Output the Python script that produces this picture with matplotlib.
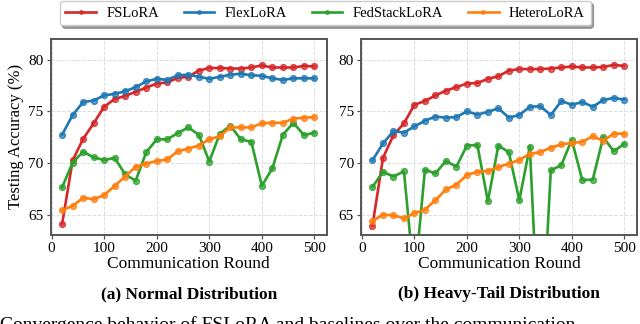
import matplotlib
matplotlib.use("Agg")
from matplotlib import pyplot as plt
from matplotlib.colors import to_rgba

plt.rcParams['font.family'] = ['Liberation Serif', 'DejaVu Serif']

rounds = list(range(20, 501, 20))

# (a) Normal Distribution
normal_fslora = [64.1, 70.25, 72.35, 73.85, 75.45, 76.2, 76.5, 76.9, 77.3, 77.7, 77.8, 78.25, 78.35,
                 78.95, 79.2, 79.2, 79.15, 79.15, 79.25, 79.45, 79.25, 79.25, 79.25, 79.4, 79.35]
normal_flexlora = [72.75, 74.65, 75.9, 76.05, 76.55, 76.7, 76.95, 77.35, 77.9, 78.15, 78.05, 78.5, 78.55,
                   78.35, 78.15, 78.35, 78.55, 78.65, 78.5, 78.45, 78.2, 78.05, 78.2, 78.2, 78.2]
normal_fedstack = [67.65, 70.05, 71.1, 70.55, 70.3, 70.5, 68.9, 68.3, 71.05, 72.3, 72.3, 72.9, 73.45,
                   72.75, 70.15, 72.85, 73.6, 72.3, 72.05, 67.8, 69.5, 72.75, 73.9, 72.7, 72.95]
normal_hetero = [65.45, 65.85, 66.65, 66.5, 66.9, 67.8, 68.7, 69.65, 69.95, 70.2, 70.35, 71.15, 71.4,
                 71.7, 72.3, 72.6, 73.45, 73.45, 73.45, 73.85, 73.9, 73.9, 74.3, 74.4, 74.45]

# (b) Heavy-Tail Distribution
heavy_fslora = [63.95, 70.5, 72.7, 73.85, 75.65, 76.0, 76.55, 77.0, 77.35, 77.7, 77.75, 78.15, 78.4,
                78.95, 79.1, 79.1, 79.1, 79.15, 79.25, 79.35, 79.25, 79.25, 79.3, 79.5, 79.4]
heavy_flexlora = [70.27, 71.9, 73.1, 72.95, 73.55, 74.1, 74.5, 74.4, 74.45, 75.0, 74.7, 74.95, 75.3,
                  74.4, 74.65, 75.45, 75.5, 74.65, 76.0, 75.65, 75.9, 75.45, 76.1, 76.3, 76.15]
heavy_fedstack = [67.7, 69.15, 68.7, 69.2, 58.5, 69.35, 69.0, 70.2, 69.65, 71.7, 71.75, 66.3, 71.7,
                  71.05, 66.4, 71.6, 50.0, 69.3, 69.8, 72.25, 68.35, 68.4, 72.5, 71.15, 71.85]
heavy_hetero = [64.4, 65.0, 64.95, 64.65, 65.15, 65.5, 66.4, 67.45, 67.9, 68.85, 69.15, 69.25, 69.6,
                69.95, 70.3, 70.9, 71.05, 71.5, 71.8, 71.95, 72.05, 72.6, 72.15, 72.85, 72.85]

methods = ["FSLoRA", "FlexLoRA", "FedStackLoRA", "HeteroLoRA"]
colors = ["#d62728", "#1f77b4", "#2ca02c", "#ff7f0e"]
panels = [
    ("(a) Normal Distribution", [normal_fslora, normal_flexlora, normal_fedstack, normal_hetero]),
    ("(b) Heavy-Tail Distribution", [heavy_fslora, heavy_flexlora, heavy_fedstack, heavy_hetero]),
]

fig = plt.figure(figsize=(6.4, 3.24), dpi=100)
ax1 = fig.add_axes([0.079, 0.275, 0.432, 0.606])
ax2 = fig.add_axes([0.564, 0.275, 0.431, 0.606])

for ax, (title, series) in zip([ax1, ax2], panels):
    for name, vals, c in zip(methods, series, colors):
        ax.plot(rounds, vals, color=c, lw=1.9, marker='o', ms=4.2,
                mfc=to_rgba(c, 0.7), mec=to_rgba(c, 0.8), mew=1.0, label=name)
    ax.set_xlim(-2, 524)
    ax.set_ylim(63.05, 82.05)
    ax.set_xticks([0, 100, 200, 300, 400, 500])
    ax.set_yticks([65, 70, 75, 80])
    ax.grid(True, ls='--', lw=0.7, color='#dddddd')
    ax.set_axisbelow(True)
    for sp in ax.spines.values():
        sp.set_color('#555555')
        sp.set_linewidth(1.4)
    ax.tick_params(labelsize=11, length=3, width=0.9, pad=2, color='#555555')
    ax.set_xlabel("Communication Round", fontsize=12.5, labelpad=1)
    pos = ax.get_position()
    fig.text((pos.x0 + pos.x1) / 2, 1 - 294 / 324, title, ha='center', va='center',
             fontsize=12.5, fontweight='bold')

ax1.set_ylabel("Testing Accuracy (%)", fontsize=12, labelpad=3)

handles, labels = ax1.get_legend_handles_labels()
fig.legend(handles, labels, loc='center', bbox_to_anchor=(0.508, 1 - 13 / 324), ncol=4,
           fontsize=10.5, frameon=True, shadow=True, fancybox=True, handlelength=2.1,
           columnspacing=1.7, borderpad=0.4, handletextpad=0.7, markerscale=0.6,
           edgecolor='#cccccc')

fig.text(0.0, 1 - 316 / 324, "Convergence behavior of FSLoRA and baselines over the communication",
         ha='left', va='top', fontsize=14)

fig.savefig("out.png", dpi=100)
